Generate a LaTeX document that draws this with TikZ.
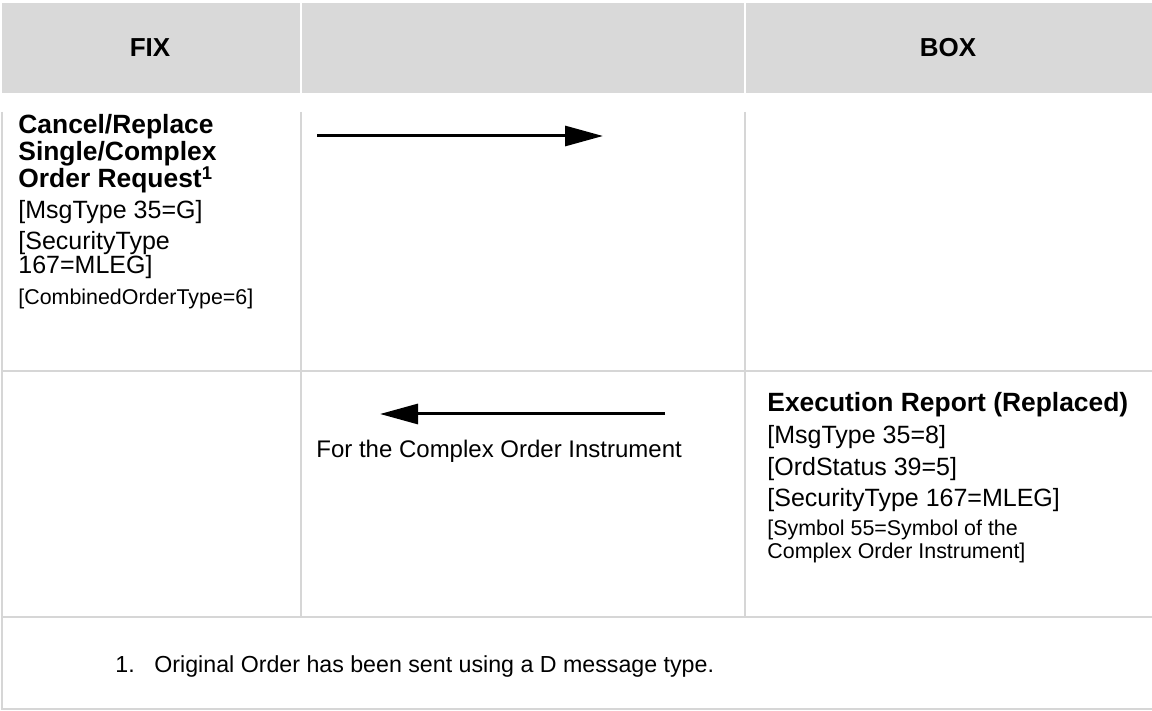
\documentclass[tikz,border=0pt]{standalone}
\usepackage{fontspec}
\setmainfont{Liberation Sans}
\usepackage{xcolor}
\usepackage{tikz}
\usetikzlibrary{arrows.meta}

\definecolor{hdrgray}{RGB}{217,217,217}
\definecolor{rulegray}{RGB}{214,214,214}

\begin{document}
\begin{tikzpicture}[
  x=0.5pt, y=-0.5pt,
  hdr/.style={fill=hdrgray, draw=none},
  rule/.style={draw=rulegray, line width=1pt},
  head/.style={font=\fontsize{13}{15}\selectfont\bfseries},
  title/.style={font=\fontsize{13.2}{15}\selectfont\bfseries, anchor=base west, inner sep=0},
  field/.style={font=\fontsize{12.5}{15}\selectfont, anchor=base west, inner sep=0},
  small/.style={font=\fontsize{10.7}{13}\selectfont, anchor=base west, inner sep=0},
  note/.style={font=\fontsize{12}{14}\selectfont, anchor=base west, inner sep=0},
  msg/.style={line width=1.5pt, -{Triangle[length=19pt,width=10pt]}}
]
\useasboundingbox (0,0) rectangle (1152,711);

% header
\fill[hdr] (2,3) rectangle (300,93);
\fill[hdr] (302,3) rectangle (744,93);
\fill[hdr] (746,3) rectangle (1152,93);
\node[head] (fix) at (150,48) {FIX};
\node[head] (box) at (948,48) {BOX};

% grid
\draw[rule] (2,112) -- (2,710);
\draw[rule] (301,112) -- (301,617);
\draw[rule] (745,112) -- (745,617);
\draw[rule] (2,371) -- (1152,371);
\draw[rule] (2,617) -- (1152,617);
\draw[rule] (2,709) -- (1152,709);

% request from FIX
\node[title] (req1) at (18,134) {Cancel/Replace};
\node[title] (req2) at (18,161) {Single/Complex};
\node[title] (req3) at (18,188) {Order Request\textsuperscript{1}};
\node[field] (req4) at (18,219) {[MsgType 35=G]};
\node[field] (req5) at (18,250) {[SecurityType};
\node[field] (req6) at (18,274) {167=MLEG]};
\node[small] (req7) at (18,305) {[CombinedOrderType=6]};
\coordinate (reqA) at (317,136);
\coordinate (reqB) at (603,136);
\draw[msg] (reqA) -- (reqB);

% execution report from BOX
\node[title] (exe1) at (767,411) {Execution Report (Replaced)};
\node[field] (exe2) at (767,444) {[MsgType 35=8]};
\node[field] (exe3) at (767,475) {[OrdStatus 39=5]};
\node[field] (exe4) at (767,506) {[SecurityType 167=MLEG]};
\node[small] (exe5) at (767,535) {[Symbol 55=Symbol of the};
\node[small] (exe6) at (767,558) {Complex Order Instrument]};
\coordinate (exeA) at (665,414);
\coordinate (exeB) at (380,414);
\draw[msg] (exeA) -- (exeB);
\node[note] (exelbl) at (316,458) {For the Complex Order Instrument};

% footnote
\node[note, font=\fontsize{11.6}{14}\selectfont] (fnum) at (115,672) {1.};
\node[note, font=\fontsize{11.6}{14}\selectfont] (ftxt) at (154,672) {Original Order has been sent using a D message type.};
\end{tikzpicture}
\end{document}
